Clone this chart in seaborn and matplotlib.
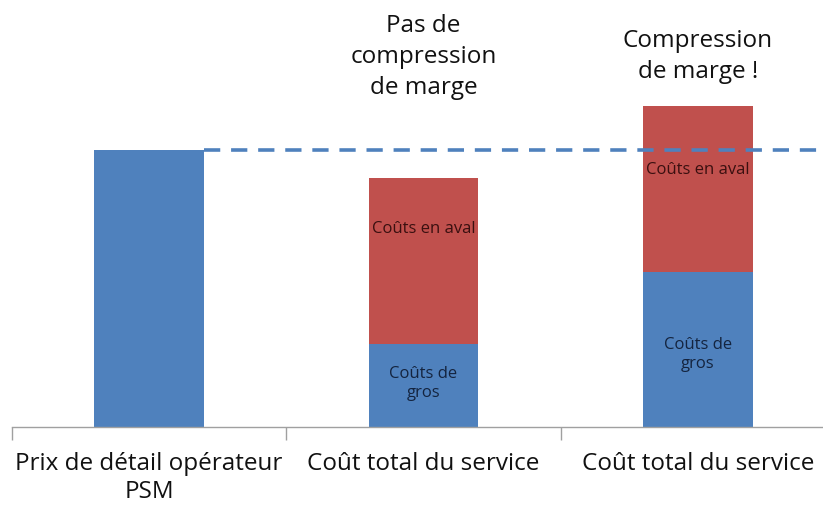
import matplotlib
matplotlib.use('Agg')
import matplotlib.pyplot as plt
import seaborn as sns
import pandas as pd

# Données (unités arbitraires, prix de détail = 100)
categories = ["Prix de détail opérateur\nPSM", "Coût total du service", "Coût total du service"]
bar_ids = ["prix", "sans", "avec"]
prix = [100, 0, 0]
gros = [0, 30, 56]
aval = [0, 60, 60]
titles = ["", "Pas de\ncompression\nde marge", "Compression\nde marge !"]

BLUE = "#4F81BD"
RED = "#C0504D"

blue = [p + g for p, g in zip(prix, gros)]
total = [b + a for b, a in zip(blue, aval)]
df = pd.DataFrame({"id": bar_ids, "blue": blue, "total": total})

sns.set_style("white")
plt.rcParams['font.family'] = ['Open Sans', 'DejaVu Sans']

fig = plt.figure(figsize=(8.23, 5.06), dpi=100)
ax = fig.add_axes([12 / 823, 78 / 506, 823 / 823, 428 / 506])

sns.barplot(data=df, x="id", y="total", color=RED, width=0.4, saturation=1,
            linewidth=0, ax=ax)
sns.barplot(data=df, x="id", y="blue", color=BLUE, width=0.4, saturation=1,
            linewidth=0, ax=ax)

ax.set_xlim(-0.5, 2.5)
ax.set_ylim(0, prix[0] * 428 / 277)
ax.set_xlabel("")
ax.set_ylabel("")
ax.set_yticks([])

# ligne pointillée au niveau du prix de détail
ax.plot([0.2, 2.85], [prix[0], prix[0]], color=BLUE, lw=2.6, ls=(0, (4.5, 3)),
        clip_on=False, zorder=5)

ax.set_xticks(range(3))
ax.set_xticklabels(categories, fontsize=17.5, color="#111111", linespacing=1.25)
ax.tick_params(axis="x", which="major", length=0, pad=17)
ax.set_xticks([-0.5, 0.5, 1.5, 2.5], minor=True)
ax.tick_params(axis="x", which="minor", bottom=True, length=9, width=1,
               color="#A0A0A0")

for s in ["top", "right", "left"]:
    ax.spines[s].set_visible(False)
ax.spines["bottom"].set_color("#A0A0A0")
ax.spines["bottom"].set_linewidth(1)

# textes au-dessus des barres
for i, t in enumerate(titles):
    if t:
        ax.text(i, 134, t, ha="center", va="center", fontsize=17.5,
                color="#111111", linespacing=1.4)

# étiquettes à l'intérieur des barres
aval_y = [None, 71.8, 93.1]
gros_y = [None, 16.2, 26.7]
for i in range(3):
    if aval[i]:
        ax.text(i, aval_y[i], "Coûts en aval", ha="center", va="center",
                fontsize=12, color="#3A1010")
    if gros[i]:
        ax.text(i, gros_y[i], "Coûts de\ngros", ha="center", va="center",
                fontsize=12, color="#14243F", linespacing=1.25)

fig.savefig("out.png", dpi=100)
